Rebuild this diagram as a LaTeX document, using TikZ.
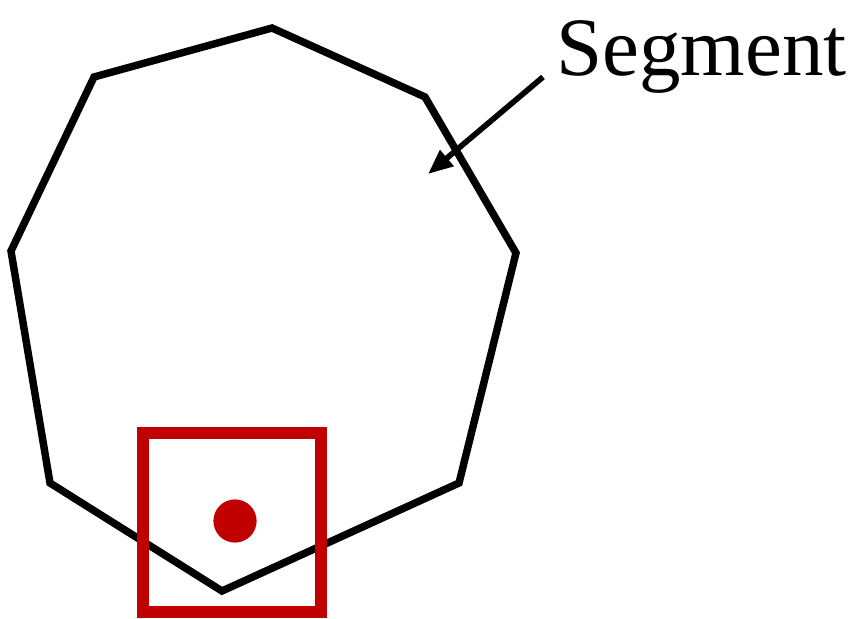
\documentclass[tikz,border=0pt]{standalone}
\usepackage{fontspec}
\setmainfont{Liberation Serif}
\usepackage{tikz}
\usetikzlibrary{arrows.meta}
\pgfdeclarelayer{edgelayer}
\pgfdeclarelayer{nodelayer}
\pgfsetlayers{edgelayer,nodelayer,main}
\definecolor{boxred}{RGB}{192,0,0}
\tikzstyle{edge}=[draw=black, line width=5.3pt]
\tikzstyle{window}=[draw=boxred, line width=8pt]
\tikzstyle{sample}=[circle, fill=boxred, inner sep=0pt, minimum size=1.08cm]
\tikzstyle{pointer}=[draw=black, line width=4pt, -{Triangle[length=0.62cm,width=0.5cm]}]

\begin{document}
\begin{tikzpicture}[x=0.025cm, y=-0.025cm]
				\useasboundingbox (0,0) rectangle (859,618);
				\begin{pgfonlayer}{nodelayer}
					\coordinate (0) at (272,28);
					\coordinate (1) at (425,97);
					\coordinate (2) at (516,253);
					\coordinate (3) at (459,483);
					\coordinate (4) at (222,591);
					\coordinate (5) at (50,483);
					\coordinate (6) at (11,251);
					\coordinate (7) at (94,77);
					\node [style=sample] (dot) at (235,521) {};
					\node [anchor=base west, inner sep=0pt, font=\fontsize{59}{59}\selectfont] (label) at (556,75) {Segment};
					\coordinate (tail) at (543,77);
					\coordinate (tip) at (428,174);
				\end{pgfonlayer}
				\begin{pgfonlayer}{edgelayer}
					\draw [style=edge] (0) -- (1) -- (2) -- (3) -- (4) -- (5) -- (6) -- (7) -- cycle;
				\end{pgfonlayer}
				\draw [style=window] (143,433) rectangle (321,612);
				\draw [style=pointer] (tail) to (tip);
			\end{tikzpicture}
\end{document}
